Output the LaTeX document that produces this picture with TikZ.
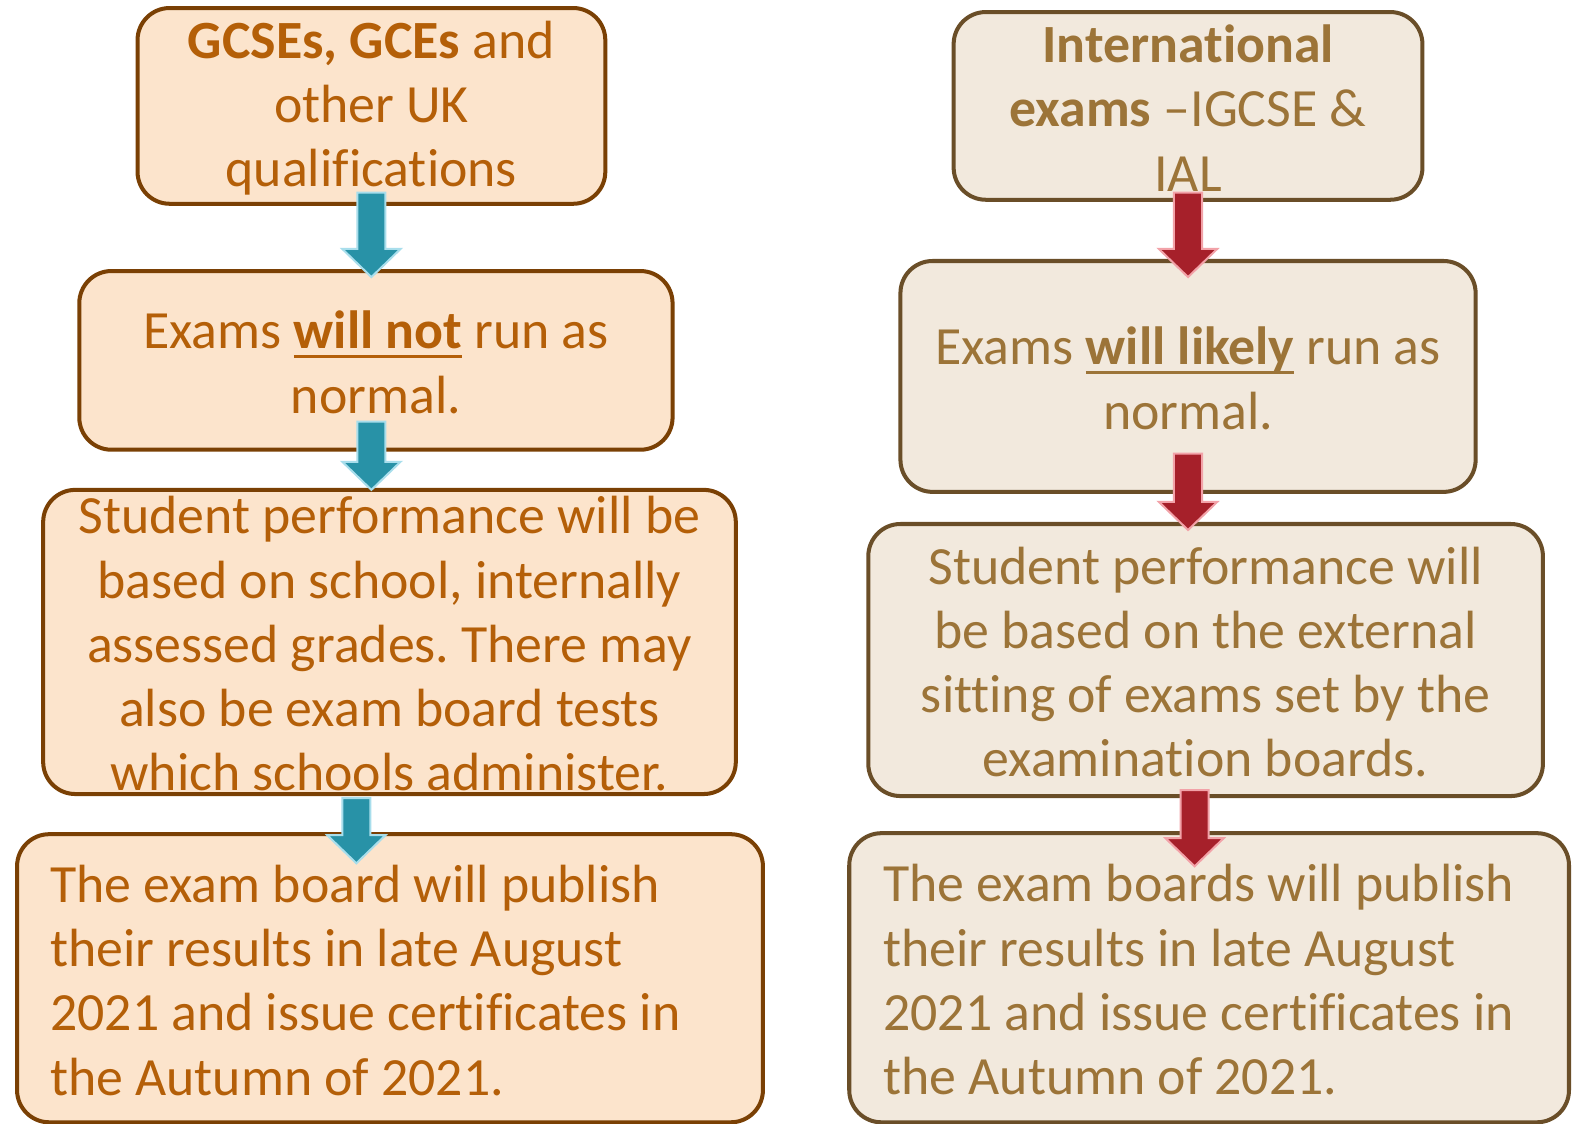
\documentclass[tikz,border=0pt]{standalone}
\usepackage{fontspec}
\setmainfont{Carlito}[Ligatures=NoCommon]
\usetikzlibrary{calc}
\frenchspacing

\definecolor{ukfill}{RGB}{252,228,204}
\definecolor{ukline}{RGB}{122,64,4}
\definecolor{uktext}{RGB}{180,95,8}
\definecolor{intfill}{RGB}{242,233,221}
\definecolor{intline}{RGB}{106,78,40}
\definecolor{inttext}{RGB}{156,116,56}
\definecolor{tealarrow}{RGB}{40,146,167}
\definecolor{tealedge}{RGB}{168,222,236}
\definecolor{redarrow}{RGB}{166,32,42}
\definecolor{rededge}{RGB}{242,162,168}

\newsavebox\undlbox
\newcommand\undl[1]{\sbox\undlbox{#1}\rlap{\rule[-4.5pt]{\wd\undlbox}{1.4pt}}\usebox\undlbox}

% block arrow: style, top point, tip point
\newcommand\blockarrow[3]{%
  \draw[#1] ($(#2)+(-14,0)$) -- ($(#2)+(14,0)$) -- ($(#3)+(14,28)$) -- ($(#3)+(29,28)$)
    -- (#3) -- ($(#3)+(-29,28)$) -- ($(#3)+(-14,28)$) -- cycle;}

\begin{document}
\begin{tikzpicture}[x=0.5pt, y=0.5pt,
    ukbox/.style={draw=ukline, fill=ukfill, line width=2pt, rounded corners=16pt, inner sep=0pt},
    intbox/.style={draw=intline, fill=intfill, line width=2pt, rounded corners=16pt, inner sep=0pt},
    words/.style={inner sep=0pt, align=center, yshift=-1pt, font=\fontsize{26.8}{32}\selectfont},
    ukword/.style={words, text=uktext},
    intword/.style={words, text=inttext},
    tealarr/.style={fill=tealarrow, draw=tealedge, line width=1pt},
    redarr/.style={fill=redarrow, draw=rededge, line width=1pt}]
    \fill[white] (0,0) rectangle (1568,-1119);
    \useasboundingbox (0,0) rectangle (1568,-1119);

    % UK column
    \node[ukbox, minimum width=233pt, minimum height=97.5pt,
        label={[ukword]center:{\textbf{GCSEs, GCEs} and\\other UK\\qualifications}}] (gcse) at (370,-105.5) {};
    \node[ukbox, minimum width=295.5pt, minimum height=89pt,
        label={[ukword]center:{Exams \undl{\textbf{will not}} run as\\normal.}}] (ukstatus) at (374.5,-359) {};
    \node[ukbox, minimum width=345pt, minimum height=151.5pt,
        label={[ukword]center:{Student performance will be\\based on school, internally\\assessed grades. There may\\also be exam board tests\\which schools administer.}}] (ukperf) at (388,-639.5) {};
    \node[ukbox, minimum width=371.5pt, minimum height=143.5pt,
        label={[ukword, align=flush left, text width=338.5pt]center:{The exam board will publish\\their results in late August\\2021 and issue certificates in\\the Autumn of 2021.}}] (ukresults) at (388.5,-974.5) {};

    % international column
    \node[intbox, minimum width=233.5pt, minimum height=93.5pt,
        label={[intword]center:{\textbf{International}\\\textbf{exams} --IGCSE \&\\IAL}}] (intl) at (1183.5,-105.5) {};
    \node[intbox, minimum width=286.5pt, minimum height=115pt,
        label={[intword]center:{Exams \undl{\textbf{will likely}} run as\\normal.}}] (intstatus) at (1183.5,-375) {};
    \node[intbox, minimum width=336pt, minimum height=135.5pt,
        label={[intword]center:{Student performance will\\be based on the external\\sitting of exams set by the\\examination boards.}}] (intperf) at (1201,-657.5) {};
    \node[intbox, minimum width=358.5pt, minimum height=144pt,
        label={[intword, align=flush left, text width=324.5pt]center:{The exam boards will publish\\their results in late August\\2021 and issue certificates in\\the Autumn of 2021.}}] (intresults) at (1204.5,-974) {};

    % arrow ends
    \coordinate (ua1s) at ($(gcse.south)+(0,13)$);
    \coordinate (ua1t) at ($(ukstatus.north)+(-4.5,-8)$);
    \coordinate (ua2s) at ($(ukstatus.south)+(-4.5,30)$);
    \coordinate (ua2t) at ($(ukperf.north)+(-18,-2)$);
    \coordinate (ua3s) at ($(ukperf.south)+(-33,-2)$);
    \coordinate (ua3t) at ($(ukresults.north)+(-33.5,-31)$);
    \coordinate (ia1s) at ($(intl.south)+(0,9)$);
    \coordinate (ia1t) at ($(intstatus.north)+(0,-18)$);
    \coordinate (ia2s) at ($(intstatus.south)+(0,40)$);
    \coordinate (ia2t) at ($(intperf.north)+(-17.5,-8)$);
    \coordinate (ia3s) at ($(intperf.south)+(-11,8)$);
    \coordinate (ia3t) at ($(intresults.north)+(-14.5,-35)$);

    \blockarrow{tealarr}{ua1s}{ua1t}
    \blockarrow{tealarr}{ua2s}{ua2t}
    \blockarrow{tealarr}{ua3s}{ua3t}
    \blockarrow{redarr}{ia1s}{ia1t}
    \blockarrow{redarr}{ia2s}{ia2t}
    \blockarrow{redarr}{ia3s}{ia3t}
\end{tikzpicture}
\end{document}
